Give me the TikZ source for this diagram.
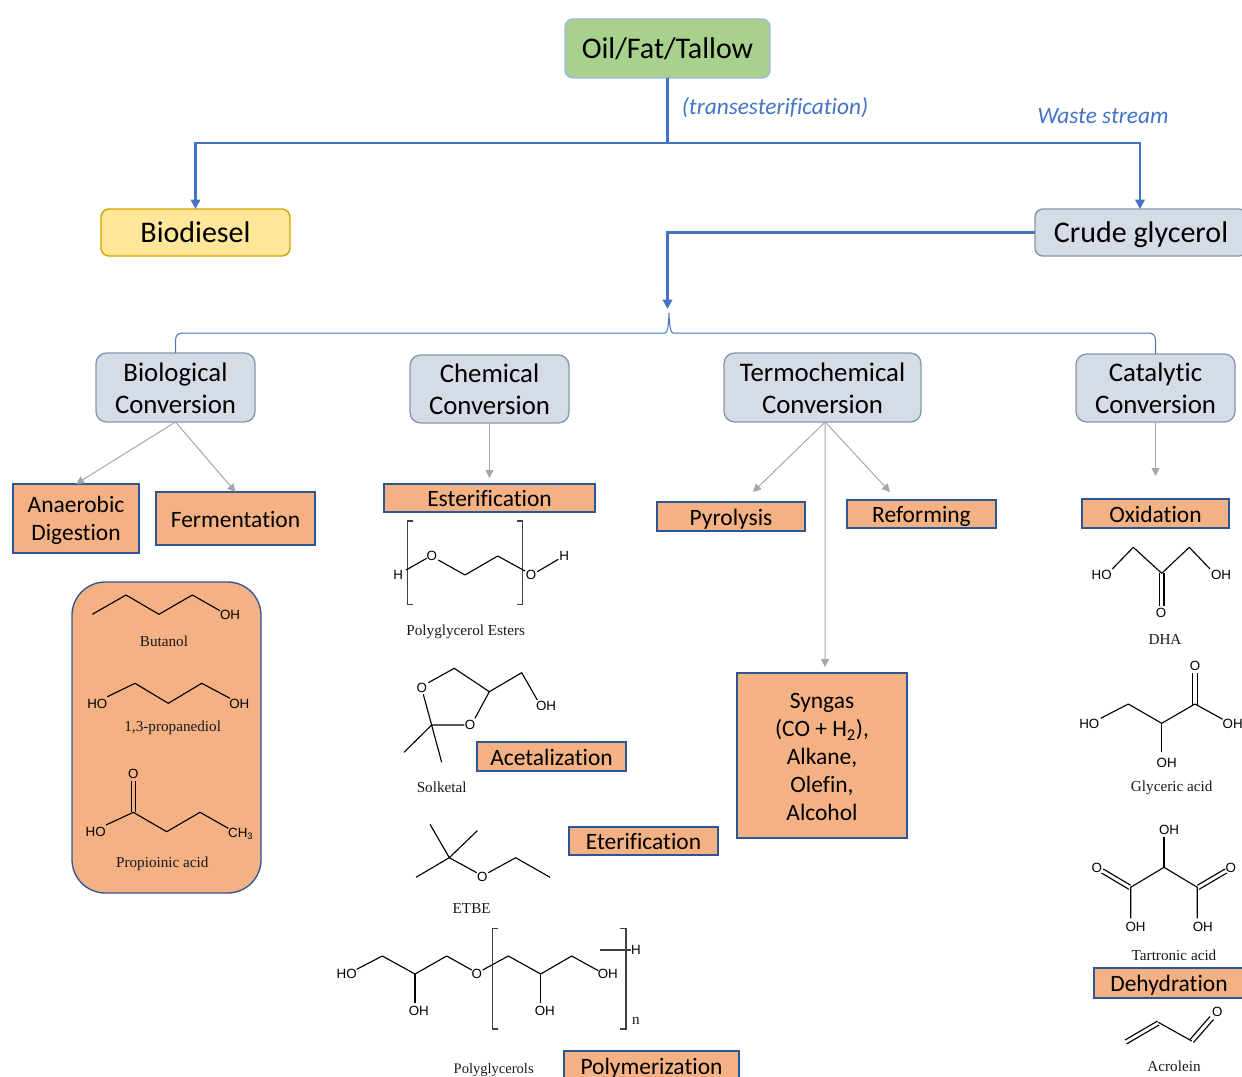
\documentclass[tikz,border=0pt]{standalone}
\usepackage{fontspec}
\setmainfont[Ligatures=NoCommon]{Carlito}
\newfontfamily\serifl{Liberation Serif}
\newfontfamily\atoml{Liberation Sans}
\usetikzlibrary{arrows.meta}
\definecolor{flowblue}{HTML}{4472C4}
\definecolor{edgeblue}{HTML}{2F5597}
\definecolor{orangefill}{HTML}{F4B183}
\definecolor{slatefill}{HTML}{D6DCE5}
\definecolor{slateedge}{HTML}{8497B0}
\definecolor{greenfill}{HTML}{A9D18E}
\definecolor{yellowfill}{HTML}{FFE699}
\definecolor{yellowedge}{HTML}{D6A300}
\definecolor{greyline}{HTML}{A6A6A6}
\newcommand{\mybox}[7]{%
  \pgfmathsetmacro\bcx{(#3+#5)/2}\pgfmathsetmacro\bcy{(#4+#6)/2}%
  \pgfmathsetmacro\bw{(#5-#3)*0.75}\pgfmathsetmacro\bh{(#6-#4)*0.75}%
  \node[#1,minimum width=\bw pt,minimum height=\bh pt] (#2) at (\bcx,\bcy) {#7};}
\newcommand{\topraise}[1]{\rule{0pt}{#1pt}}
\tikzset{
  basebox/.style={draw,inner sep=0pt,outer sep=0pt,align=center,text=black},
  topfont/.style={font=\fontsize{22.5}{27}\selectfont,text height=15.5pt,text depth=0pt},
  oilbox/.style={basebox,fill=greenfill,draw=flowblue!50,line width=1.1pt,rounded corners=6pt,topfont},
  dieselbox/.style={basebox,fill=yellowfill,draw=yellowedge,line width=1.1pt,rounded corners=6pt,topfont},
  glycbox/.style={basebox,fill=slatefill,draw=slateedge,line width=1.1pt,rounded corners=6pt,topfont},
  convbox/.style={basebox,fill=slatefill,draw=slateedge,line width=1pt,rounded corners=8pt,font=\fontsize{20.1}{24}\selectfont},
  procbox/.style={basebox,fill=orangefill,draw=edgeblue,line width=1pt,font=\fontsize{17.6}{21}\selectfont,text height=13.2pt,text depth=0pt},
  procmulti/.style={basebox,fill=orangefill,draw=edgeblue,line width=1pt,font=\fontsize{17.6}{21}\selectfont},
  groupbox/.style={basebox,fill=orangefill,draw=edgeblue,line width=1pt,rounded corners=25pt},
  flow/.style={draw=flowblue,line width=2.2pt,-{Triangle[length=7pt,width=7pt]}},
  flowplain/.style={draw=flowblue,line width=2.2pt},
  bracel/.style={draw=flowblue,line width=0.75pt},
  grey/.style={draw=greyline,line width=0.75pt,-{Triangle[length=6pt,width=6pt]}},
  note/.style={text=flowblue,font=\fontsize{17.5}{20}\selectfont\itshape,inner sep=0pt},
  chem/.style={font=\fontsize{11.4}{13}\selectfont\serifl,inner sep=0pt,text=black!90},
  atom/.style={font=\fontsize{10}{12}\selectfont\atoml,inner sep=0pt,text=black},
  bond/.style={draw=black,line width=0.85pt,line join=round},
  brk/.style={draw=black!75,line width=0.9pt},
}
\begin{document}
\begin{tikzpicture}[x=0.75pt,y=-0.75pt]
\useasboundingbox (0,0) rectangle (1242,1077);
\clip (0,0) rectangle (1242,1077);
% top boxes
\mybox{oilbox}{oil}{565}{19}{770}{78}{Oil/Fat/Tallow}
\mybox{dieselbox}{biodiesel}{101}{209}{290}{256}{Biodiesel}
\mybox{glycbox}{crude}{1035}{209}{1247}{256}{Crude glycerol}
% conversions
\mybox{convbox}{bio}{96}{353}{255}{422}{\topraise{15}Biological\\Conversion}
\mybox{convbox}{chemc}{410}{355}{569}{423}{\topraise{15}Chemical\\Conversion}
\mybox{convbox}{term}{724}{353}{921}{422}{\topraise{15}Termochemical\\Conversion}
\mybox{convbox}{cat}{1076}{354}{1235}{422}{\topraise{15}Catalytic\\Conversion}
% process boxes
\mybox{procmulti}{anaer}{13}{484}{139}{553}{\topraise{15}Anaerobic\\Digestion}
\mybox{procbox}{ferm}{156}{492}{315}{545}{Fermentation}
\mybox{procbox}{ester}{384}{484}{595}{512}{Esterification}
\mybox{procbox}{pyro}{657}{502}{805}{531}{Pyrolysis}
\mybox{procbox}{reform}{847}{500}{996}{528}{Reforming}
\mybox{procbox}{oxid}{1082}{499}{1229}{528}{Oxidation}
\mybox{procbox}{acetal}{477}{742}{626}{771}{Acetalization}
\mybox{procbox}{eter}{569}{827}{718}{855}{Eterification}
\mybox{procmulti}{syngas}{737}{673}{907}{838}{\topraise{14}Syngas\\(CO + H\textsubscript{2}),\\Alkane,\\Olefin,\\Alcohol}
\mybox{procbox}{polym}{564}{1051}{739}{1081}{Polymerization}
\mybox{procbox}{dehyd}{1094}{968}{1244}{998}{Dehydration}
\mybox{groupbox}{group}{72}{582}{261}{893}{}
% notes
\node[note] (trans) at (775,108) {(transesterification)};
\node[note] (waste) at (1103,116) {Waste stream};
% flows
\coordinate (split) at (667.5,143);
\coordinate (convin) at (667.5,309);
\draw[flowplain] (oil.south) -- (split);
\draw[flow] (split) -| (biodiesel.north);
\draw[flow] (split) -| ([xshift=-0.75pt]crude.north);
\draw[flow] (crude.west) -| (convin);
% brace
\draw[bracel] (bio.north) -- (175.5,341) .. controls (175.5,335) and (178,333) .. (183,333) -- (665,333) .. controls (667.5,333) and (668.7,325) .. (669,313) .. controls (669.4,325) and (670.5,333) .. (673,333) -- (1148,333) .. controls (1153,333) and (1155.5,335) .. (1155.5,341) -- (cat.north);
% grey arrows
\draw[grey] (bio.south) -- (anaer.north);
\draw[grey] (bio.south) -- (ferm.north);
\draw[grey,shorten >=4.5pt] (chemc.south) -- (ester.north);
\coordinate (pyroend) at (753,492);
\coordinate (reformend) at (890,492);
\coordinate (syngasend) at (825,667);
\coordinate (oxidend) at (1155.5,476);
\draw[grey] ([xshift=2pt]term.south) -- (pyroend);
\draw[grey] ([xshift=2pt]term.south) -- (reformend);
\draw[grey] ([xshift=2pt]term.south) -- (syngasend);
\draw[grey] (cat.south) -- (oxidend);
% group structures
\draw[bond] (92.3,614.3) -- (126,595) -- (159,614.3) -- (192.3,595) -- (220,610.7);
\node[atom] (a1) at (230,614.5) {OH};
\node[chem] (l1) at (164,641.5) {Butanol};
\draw[bond] (107.3,696.7) -- (135,683.3) -- (168.3,703.3) -- (201.7,683.3) -- (230,698.3);
\node[atom] (a2) at (97.3,703.8) {HO};
\node[atom] (a3) at (239.3,703.8) {OH};
\node[chem] (l2) at (172.7,727.7) {1,3-propanediol};
\draw[bond] (106,825) -- (133.3,812.3) -- (166.7,831.7) -- (200,812.3) -- (228.3,828.3);
\draw[bond] (131.5,780.7) -- (131.5,812) (135.5,780.7) -- (135.5,812);
\node[atom] (a4) at (133.3,773.8) {O};
\node[atom] (a5) at (95.7,832.2) {HO};
\node[atom] (a6) at (240.7,833.8) {CH\textsubscript{3}};
\node[chem] (l3) at (162.3,863.8) {Propioinic acid};
% polyglycerol esters
\draw[brk] (412.7,521) -- (407.7,521) -- (407.7,604.3) -- (412.7,604.3);
\draw[brk] (516.7,521) -- (522.7,521) -- (522.7,604.3) -- (516.7,604.3);
\draw[bond] (406,570) -- (426.7,558.3);
\draw[bond] (438.3,560) -- (465,575) -- (497.7,556) -- (525,571);
\draw[bond] (537.3,571.7) -- (558.3,559.3);
\node[atom] (b1) at (398.3,575) {H};
\node[atom] (b2) at (431.7,556) {O};
\node[atom] (b3) at (531,575) {O};
\node[atom] (b4) at (564.3,555.7) {H};
\node[chem] (l4) at (465.7,632) {Polyglycerol Esters};
% solketal
\draw[bond] (428.3,682.7) -- (454.3,668.3) -- (489.3,691.7) -- (521.7,672.7) -- (537.3,700);
\draw[bond] (489.3,691.7) -- (475,718.3);
\draw[bond] (464.3,725) -- (431.7,725) -- (404,752.3);
\draw[bond] (423.3,694.3) -- (441.7,762.3);
\node[atom] (c1) at (421.7,687.7) {O};
\node[atom] (c2) at (470,725) {O};
\node[atom] (c3) at (546,706) {OH};
\node[chem] (l5) at (441.7,787) {Solketal};
% ETBE
\draw[bond] (430,824.3) -- (449.3,857.7) -- (477.3,830.7);
\draw[bond] (416,877.3) -- (449.3,857.7) -- (476.7,872.7);
\draw[bond] (488.3,872.7) -- (515.7,857.7) -- (550,877.3);
\node[atom] (d1) at (482.3,877.3) {O};
\node[chem] (l6) at (471.7,909) {ETBE};
% polyglycerols
\draw[bond] (356.7,969.3) -- (382.3,956) -- (415,974) -- (446.7,956) -- (471.7,970);
\draw[bond] (415,974) -- (415,1003.3);
\draw[bond] (482.7,970) -- (508.3,956) -- (540.7,974) -- (571.7,956) -- (598.3,970.7);
\draw[bond] (540.7,974) -- (540.7,1003.3);
\draw[brk] (498.3,928.3) -- (492.3,928.3) -- (492.3,1029) -- (498.3,1029);
\draw[brk] (620,928.3) -- (626,928.3) -- (626,1029) -- (620,1029);
\draw[brk] (600,950) -- (631,950);
\node[atom] (e1) at (346.7,974.3) {HO};
\node[atom] (e2) at (418.8,1011.3) {OH};
\node[atom] (e3) at (476.7,974.3) {O};
\node[atom] (e4) at (607.8,974.3) {OH};
\node[atom] (e5) at (544.8,1011.3) {OH};
\node[atom] (e6) at (636,950) {H};
\node[chem] (e7) at (636,1021) {n};
\node[chem,font=\fontsize{10.9}{13}\selectfont\serifl] (l7) at (493.7,1070) {Polyglycerols};
% DHA
\draw[bond] (1112.3,569) -- (1133.3,547.3) -- (1161.7,573.3) -- (1189.3,547.3) -- (1210,569);
\draw[bond] (1159.5,573.3) -- (1159.5,606) (1164,573.3) -- (1164,606);
\node[atom] (f1) at (1101.7,574.8) {HO};
\node[atom] (f2) at (1221,574.8) {OH};
\node[atom] (f3) at (1161,613.2) {O};
\node[chem] (l8) at (1165,639.3) {DHA};
% glyceric
\draw[bond] (1100.7,718.3) -- (1128.3,704) -- (1161.7,723.3) -- (1195,704) -- (1222.7,719.3);
\draw[bond] (1161.7,723.3) -- (1161.7,751.7);
\draw[bond] (1192.7,673.3) -- (1192.7,705) (1197.3,673.3) -- (1197.3,705);
\node[atom] (g1) at (1195,665.7) {O};
\node[atom] (g2) at (1089.3,724.3) {HO};
\node[atom] (g3) at (1232.7,724.3) {OH};
\node[atom] (g4) at (1166.7,763) {OH};
\node[chem] (l9) at (1171.7,788.3) {Glyceric acid};
% tartronic
\draw[bond] (1164,836.7) -- (1164,867.3);
\draw[bond] (1130.7,918.3) -- (1130.7,887.3) -- (1164,867.3) -- (1197.3,887.3) -- (1197.3,918.3);
\draw[bond] (1103.3,869) -- (1130.7,885.3) (1101.5,873) -- (1128.9,889.3);
\draw[bond] (1197.3,885.3) -- (1225,869) (1199.1,889.3) -- (1226.8,873);
\node[atom] (h1) at (1169,829.8) {OH};
\node[atom] (h2) at (1135.5,926.5) {OH};
\node[atom] (h3) at (1202.8,926.5) {OH};
\node[atom] (h4) at (1096.7,868.3) {O};
\node[atom] (h5) at (1230.7,868.3) {O};
\node[chem] (l10) at (1174,955) {Tartronic acid};
% acrolein
\draw[bond] (1125,1040) -- (1157.5,1021) (1126.5,1044) -- (1159,1025);
\draw[bond] (1158.3,1022.3) -- (1191.7,1041);
\draw[bond] (1190,1039.5) -- (1210,1016.5) (1193.5,1042.5) -- (1213.5,1019.5);
\node[atom] (i1) at (1217.3,1012.3) {O};
\node[chem] (l11) at (1174,1066) {Acrolein};
\end{tikzpicture}
\end{document}
